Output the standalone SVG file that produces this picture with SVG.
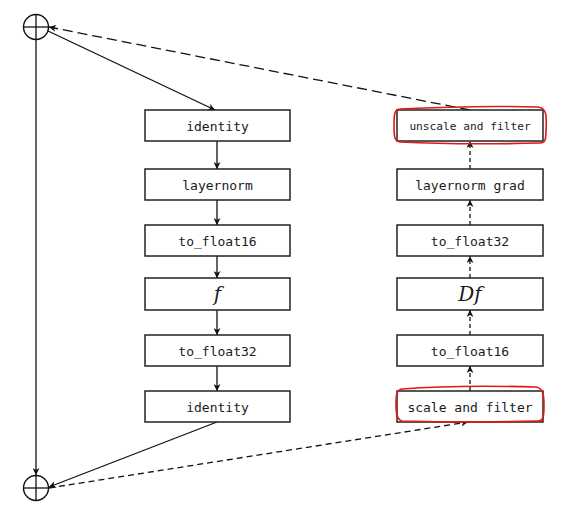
<svg xmlns="http://www.w3.org/2000/svg" width="573" height="517" viewBox="0 0 573 517">
<style>
.box{fill:#fff;stroke:#222;stroke-width:1.5}
.t{font-family:"DejaVu Sans Mono","Liberation Mono",monospace;font-size:13px;fill:#1a1a1a;text-anchor:middle;dominant-baseline:central}
.m{font-family:"DejaVu Serif","Liberation Serif",serif;font-style:italic;font-size:20px;fill:#1a1a1a;text-anchor:middle;dominant-baseline:central}
.c{fill:none;stroke:#111;stroke-width:1.3}
.d1{stroke-dasharray:10 5}
.d2{stroke-dasharray:6 4}
.d3{stroke-dasharray:4 3}
.red{fill:none;stroke:#e01818;stroke-width:1.6}
</style>
<defs>
<marker id="ah" viewBox="0 0 10 10" refX="10" refY="5" markerWidth="7" markerHeight="7" orient="auto" markerUnits="userSpaceOnUse">
<path d="M0,0 L10,5 L0,10 L3,5 z" fill="#111"/>
</marker>
</defs>
<g id="connectors">
<line class="c" x1="36" y1="40" x2="36" y2="475" marker-end="url(#ah)"/>
<line class="c" x1="48" y1="31" x2="215" y2="110" marker-end="url(#ah)"/>
<line class="c" x1="217" y1="141" x2="217" y2="169" marker-end="url(#ah)"/>
<line class="c" x1="217" y1="200" x2="217" y2="225" marker-end="url(#ah)"/>
<line class="c" x1="217" y1="256" x2="217" y2="278" marker-end="url(#ah)"/>
<line class="c" x1="217" y1="310" x2="217" y2="335" marker-end="url(#ah)"/>
<line class="c" x1="217" y1="366" x2="217" y2="391" marker-end="url(#ah)"/>
<line class="c" x1="217" y1="422" x2="49" y2="487" marker-end="url(#ah)"/>
<line class="c d2" x1="49" y1="488" x2="468" y2="422" marker-end="url(#ah)"/>
<line class="c d3" x1="470" y1="391" x2="470" y2="366" marker-end="url(#ah)"/>
<line class="c d3" x1="470" y1="335" x2="470" y2="310" marker-end="url(#ah)"/>
<line class="c d3" x1="470" y1="278" x2="470" y2="256" marker-end="url(#ah)"/>
<line class="c d3" x1="470" y1="225" x2="470" y2="200" marker-end="url(#ah)"/>
<line class="c d3" x1="470" y1="169" x2="470" y2="141" marker-end="url(#ah)"/>
<line class="c d1" x1="470" y1="110" x2="49" y2="27" marker-end="url(#ah)"/>
</g>
<g id="sum_top">
<circle cx="36" cy="27" r="12.5" fill="#fff" stroke="#111" stroke-width="1.4"/>
<line x1="23.5" y1="27" x2="48.5" y2="27" stroke="#111" stroke-width="1.3"/>
<line x1="36" y1="14.5" x2="36" y2="39.5" stroke="#111" stroke-width="1.3"/>
</g>
<g id="sum_bottom">
<circle cx="36" cy="488" r="12.5" fill="#fff" stroke="#111" stroke-width="1.4"/>
<line x1="23.5" y1="488" x2="48.5" y2="488" stroke="#111" stroke-width="1.3"/>
<line x1="36" y1="475.5" x2="36" y2="500.5" stroke="#111" stroke-width="1.3"/>
</g>
<g id="identity1"><rect class="box" x="145" y="110" width="145" height="31"/><text class="t" x="217.5" y="126">identity</text></g>
<g id="layernorm"><rect class="box" x="145" y="169" width="145" height="31"/><text class="t" x="217.5" y="185">layernorm</text></g>
<g id="to_float16_l"><rect class="box" x="145" y="225" width="145" height="31"/><text class="t" x="217.5" y="241">to_float16</text></g>
<g id="f"><rect class="box" x="145" y="278" width="145" height="32"/><text class="m" x="217.5" y="294">f</text></g>
<g id="to_float32_l"><rect class="box" x="145" y="335" width="145" height="31"/><text class="t" x="217.5" y="351">to_float32</text></g>
<g id="identity2"><rect class="box" x="145" y="391" width="145" height="31"/><text class="t" x="217.5" y="407">identity</text></g>
<g id="unscale"><rect class="box" x="397" y="110" width="146" height="31"/><text class="t" x="470" y="126" style="font-size:11.2px">unscale and filter</text></g>
<g id="layernorm_grad"><rect class="box" x="397" y="169" width="146" height="31"/><text class="t" x="470" y="185">layernorm grad</text></g>
<g id="to_float32_r"><rect class="box" x="397" y="225" width="146" height="31"/><text class="t" x="470" y="241">to_float32</text></g>
<g id="Df"><rect class="box" x="397" y="278" width="146" height="32"/><text class="m" x="470" y="294">Df</text></g>
<g id="to_float16_r"><rect class="box" x="397" y="335" width="146" height="31"/><text class="t" x="470" y="351">to_float16</text></g>
<g id="scale"><rect class="box" x="397" y="391" width="146" height="31"/><text class="t" x="470" y="407">scale and filter</text></g>
<g id="annotations">
<path class="red" d="M400,109 C440,107 500,106 538,107 C546,108 547,114 546,130 C546,140 545,143 540,143 C500,144 440,144 400,142 C394,141 394,136 394,124 C394,113 395,109 400,109 Z"/>
<path class="red" d="M402,389 C440,386 500,386 536,387 C543,388 544,395 544,405 C544,418 543,421 538,421 C500,422 440,422 402,421 C397,420 396,414 396,404 C396,393 397,390 402,389 Z"/>
</g>
</svg>
